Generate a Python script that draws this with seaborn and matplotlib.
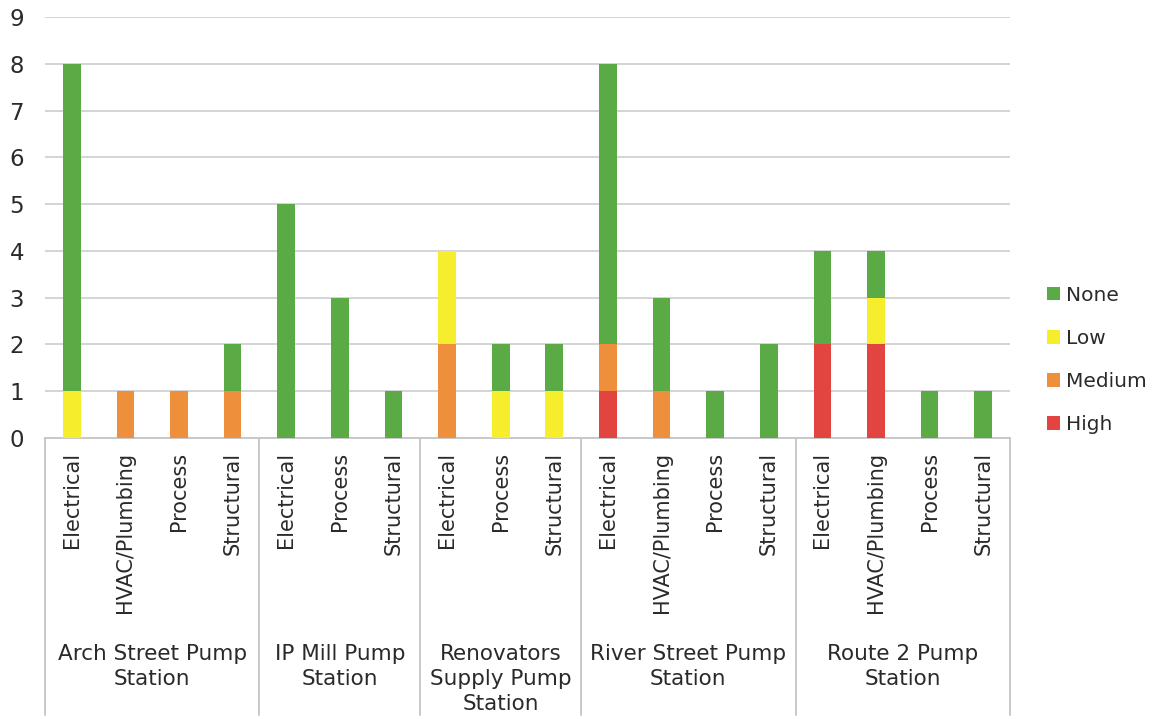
import matplotlib
matplotlib.use("Agg")
import matplotlib.pyplot as plt
import matplotlib.transforms as mtransforms
from matplotlib.patches import Patch
import numpy as np
import pandas as pd
import seaborn as sns

# Pump stations and the system assessed at each bar
stations = [
    "Arch Street Pump Station",
    "IP Mill Pump Station",
    "Renovators Supply Pump Station",
    "River Street Pump Station",
    "Route 2 Pump Station",
]
station_labels = [
    "Arch Street Pump\nStation",
    "IP Mill Pump\nStation",
    "Renovators\nSupply Pump\nStation",
    "River Street Pump\nStation",
    "Route 2 Pump\nStation",
]
bar_station = [0, 0, 0, 0, 1, 1, 1, 2, 2, 2, 3, 3, 3, 3, 4, 4, 4, 4]
bar_system = [
    "Electrical", "HVAC/Plumbing", "Process", "Structural",
    "Electrical", "Process", "Structural",
    "Electrical", "Process", "Structural",
    "Electrical", "HVAC/Plumbing", "Process", "Structural",
    "Electrical", "HVAC/Plumbing", "Process", "Structural",
]

# Counts of findings by risk level
high = [0, 0, 0, 0, 0, 0, 0, 0, 0, 0, 1, 0, 0, 0, 2, 2, 0, 0]
medium = [0, 1, 1, 1, 0, 0, 0, 2, 0, 0, 1, 1, 0, 0, 0, 0, 0, 0]
low = [1, 0, 0, 0, 0, 0, 0, 2, 1, 1, 0, 0, 0, 0, 0, 1, 0, 0]
none = [7, 0, 0, 1, 5, 3, 1, 0, 1, 1, 6, 2, 1, 2, 2, 1, 1, 1]

levels = ["High", "Medium", "Low", "None"]
colors = {"None": "#5aab46", "Low": "#f6ee2c", "Medium": "#ee8f3b", "High": "#e2443f"}

keys = [f"{s}|{c}" for s, c in zip(bar_station, bar_system)]
df = pd.DataFrame({"key": keys, "High": high, "Medium": medium, "Low": low, "None": none})
# cumulative heights, bottom layer first
df["cum_High"] = df["High"]
df["cum_Medium"] = df["cum_High"] + df["Medium"]
df["cum_Low"] = df["cum_Medium"] + df["Low"]
df["cum_None"] = df["cum_Low"] + df["None"]

sns.set_theme(style="white")
plt.rcParams["font.family"] = ["DejaVu Sans"]
text_color = "#2a2a2a"

fig = plt.figure(figsize=(11.56, 7.19), dpi=100)
ax = fig.add_axes([45 / 1156, 1 - 438 / 719, (1010 - 45) / 1156, (438 - 17) / 719])

# draw tallest cumulative layer first so lower layers sit on top
for lvl in reversed(levels):
    sns.barplot(data=df, x="key", y=f"cum_{lvl}", order=keys, color=colors[lvl],
                saturation=1, width=0.33, errorbar=None, ax=ax, zorder=3,
                linewidth=0, edgecolor="none")

ax.set_ylim(0, 9)
ax.set_xlim(-0.5, len(keys) - 0.5)
ax.set_yticks(range(0, 10))
ax.yaxis.grid(True, color="#d4d4d4", linewidth=1.4, zorder=0)
ax.set_axisbelow(True)
ax.set_xlabel("")
ax.set_ylabel("")
for side in ["left", "right", "top"]:
    ax.spines[side].set_visible(False)
ax.spines["bottom"].set_color("#c8c8c8")
ax.spines["bottom"].set_linewidth(1.4)

ax.set_xticks(range(len(keys)))
ax.set_xticklabels(bar_system, rotation=90, ha="center", va="top",
                   fontsize=15, color=text_color)
ax.tick_params(axis="x", length=0, pad=10)
ax.tick_params(axis="y", length=0, pad=15, labelsize=16.5, labelcolor=text_color)

# grouped category axis: separators and station names
trans = mtransforms.blended_transform_factory(ax.transData, ax.transAxes)
px = 1.0 / (438 - 17)
bottom_y = -(715 - 438) * px
bounds = [-0.5]
for i in range(1, len(bar_station)):
    if bar_station[i] != bar_station[i - 1]:
        bounds.append(i - 0.5)
bounds.append(len(bar_station) - 0.5)
for b in bounds:
    ax.plot([b, b], [0, bottom_y], transform=trans, color="#c8c8c8",
            linewidth=1.4, clip_on=False)
for g, label in enumerate(station_labels):
    idx = [i for i, s in enumerate(bar_station) if s == g]
    center = (idx[0] + idx[-1]) / 2
    ax.text(center, -(644 - 438) * px, label, transform=trans, ha="center",
            va="top", fontsize=15.5, color=text_color, linespacing=1.3,
            multialignment="center")

handles = [Patch(facecolor=colors[l], edgecolor="none", label=l)
           for l in ["None", "Low", "Medium", "High"]]
fig.legend(handles=handles, loc="center left", bbox_to_anchor=(1047 / 1156, 1 - 360 / 719),
           frameon=False, fontsize=14.5, handlelength=0.65, handleheight=0.65,
           handletextpad=0.3, labelspacing=1.2, borderpad=0, borderaxespad=0,
           labelcolor=text_color)

fig.savefig("out.png", dpi=100)
